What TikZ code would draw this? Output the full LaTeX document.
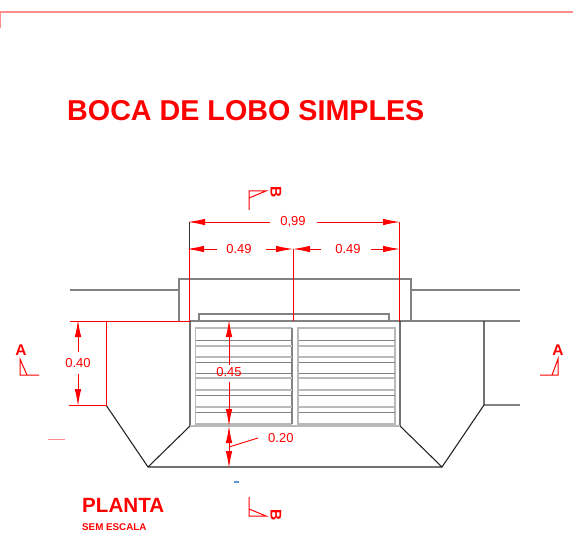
\documentclass[tikz,border=0pt]{standalone}
\usepackage{fontspec}
\setmainfont{Liberation Sans}
\usepackage{xcolor}
\definecolor{cadred}{RGB}{255,0,0}
\definecolor{cadgray}{RGB}{130,130,130}
\definecolor{cadbar}{RGB}{185,185,185}
\definecolor{cadpink}{RGB}{255,140,140}
\definecolor{cadblue}{RGB}{90,150,215}
\usetikzlibrary{arrows.meta}
\tikzset{
    outline/.style={black!85, line width=1.1pt},
    road/.style={cadgray, line width=1.1pt},
    bar/.style={cadbar, line width=1.5pt},
    thinbar/.style={cadgray, line width=0.9pt},
    redline/.style={cadred, line width=1pt},
    dimline/.style={cadred, line width=0.9pt, {Latex[length=17pt,width=6.5pt]}-{Latex[length=17pt,width=6.5pt]}},
    halfdim/.style={cadred, line width=0.9pt, -{Latex[length=17pt,width=6.5pt]}},
    dimtext/.style={text=cadred, font=\fontsize{13}{13}\selectfont, inner sep=1pt},
    secmark/.style={cadred, line width=1pt},
    secletter/.style={text=cadred, font=\fontsize{15.5}{15.5}\selectfont\bfseries, inner sep=0pt}
}
\begin{document}
\begin{tikzpicture}[x=1pt,y=-1pt]
    \useasboundingbox (0,0) rectangle (573,540);
    % page edge
    \draw[cadpink, line width=1.4pt] (0,28) -- (0,12) -- (573,12);
    % titles
    \node[anchor=base west, text=cadred, inner sep=0pt, font=\fontsize{28.7}{28.7}\selectfont\bfseries] (title) at (67,121) {BOCA DE LOBO SIMPLES};
    \node[anchor=base west, text=cadred, inner sep=0pt, font=\fontsize{20.6}{20.6}\selectfont\bfseries] (planta) at (82,512) {PLANTA};
    \node[anchor=base west, text=cadred, inner sep=0pt, font=\fontsize{9.8}{9.8}\selectfont\bfseries] (escala) at (82,530) {SEM ESCALA};
    % road
    \draw[road] (70,290) -- (179,290);
    \draw[road] (411,290) -- (520,290);
    \draw[road] (190,321) -- (520,321);
    \draw[road] (484,405) -- (520,405);
    \draw[road] (179,321) -- (179,279) -- (411,279) -- (411,321);
    \draw[road] (199,321) -- (199,314) -- (389,314) -- (389,321);
    % box
    \draw[outline] (106,405) -- (148,467) -- (442,467) -- (484,405) -- (484,321);
    \draw[outline] (148,467) -- (190,426) -- (190,321);
    \draw[outline] (442,467) -- (400,426) -- (400,321);
    \draw[bar] (190,426) -- (400,426);
    % grates
    \draw[bar] (195.5,328) rectangle (291.5,424);
    \draw[bar] (298,328) rectangle (395,424);
    \draw[cadgray, line width=2pt] (292,328) -- (292,424);
    \foreach \yb in {346,357,378,390,407} {
        \draw[bar] (195.5,\yb) -- (291.5,\yb);
        \draw[bar] (298,\yb) -- (395,\yb);
    }
    \foreach \yb in {340,362,373,395,412} {
        \draw[thinbar] (195.5,\yb) -- (291.5,\yb);
        \draw[thinbar] (299,\yb) -- (395,\yb);
    }
    % red outline, left side
    \draw[redline] (70,321) -- (190,321);
    \draw[redline] (69,405) -- (106,405) -- (106,321);
    % extension lines
    \draw[black!80, line width=0.9pt] (189,222) -- (189,249);
    \draw[redline] (189,249) -- (189,321);
    \draw[redline] (399,222) -- (399,321);
    \draw[redline] (293,249) -- (293,321);
    % dimensions
    \node[dimtext] (wtot) at (293,222) {0,99};
    \coordinate (wl) at (188,222);
    \coordinate (wr) at (400,222);
    \draw[halfdim] (270,222) -- (wl);
    \draw[halfdim] (317,222) -- (wr);
    \node[dimtext] (wa) at (239,249) {0.49};
    \node[dimtext] (wb) at (348,249) {0.49};
    \coordinate (wal) at (187,249);
    \coordinate (wmid) at (293,249);
    \coordinate (wbr) at (400,249);
    \draw[halfdim] (217,249) -- (wal);
    \draw[halfdim] (266,249) -- (wmid);
    \draw[halfdim] (321,249) -- (wmid);
    \draw[halfdim] (371,249) -- (wbr);
    \node[dimtext] (ha) at (78,363) {0.40};
    \coordinate (hat) at (78,320);
    \coordinate (hab) at (78,406);
    \draw[halfdim] (78,352) -- (hat);
    \draw[halfdim] (78,374) -- (hab);
    \node[dimtext] (hb) at (229,372) {0.45};
    \coordinate (hbt) at (229,320);
    \coordinate (hbm) at (229,426);
    \coordinate (hbb) at (229,468);
    \draw[halfdim] (229,365) -- (hbt);
    \draw[halfdim] (229,382) -- (hbm);
    \draw[dimline] (hbm) -- (hbb);
    \node[dimtext, anchor=west] (hc) at (267,438) {0.20};
    \coordinate (hcl) at (258,438);
    \coordinate (hcm) at (229,447);
    \draw[cadred, line width=0.9pt] (hcm) -- (hcl);
    % section marks
    \draw[secmark] (249,210) -- (249,191) -- (266,191) -- (249,198);
    \node[secletter, rotate=-90] (secbt) at (276,192) {B};
    \draw[secmark] (249,497) -- (249,516) -- (266,516) -- (249,509);
    \node[secletter, rotate=-90] (secbb) at (276,515) {B};
    \draw[secmark] (39,375) -- (20,375) -- (20,359) -- (27,375);
    \node[secletter] (secal) at (21,350) {A};
    \draw[secmark] (540,375) -- (558,375) -- (558,359) -- (552,375);
    \node[secletter] (secar) at (558,350) {A};
    % stray marks
    \draw[cadpink, line width=1pt] (48,439) -- (65,439);
    \draw[cadblue, line width=1.2pt] (234,482) -- (239,482);
\end{tikzpicture}
\end{document}
